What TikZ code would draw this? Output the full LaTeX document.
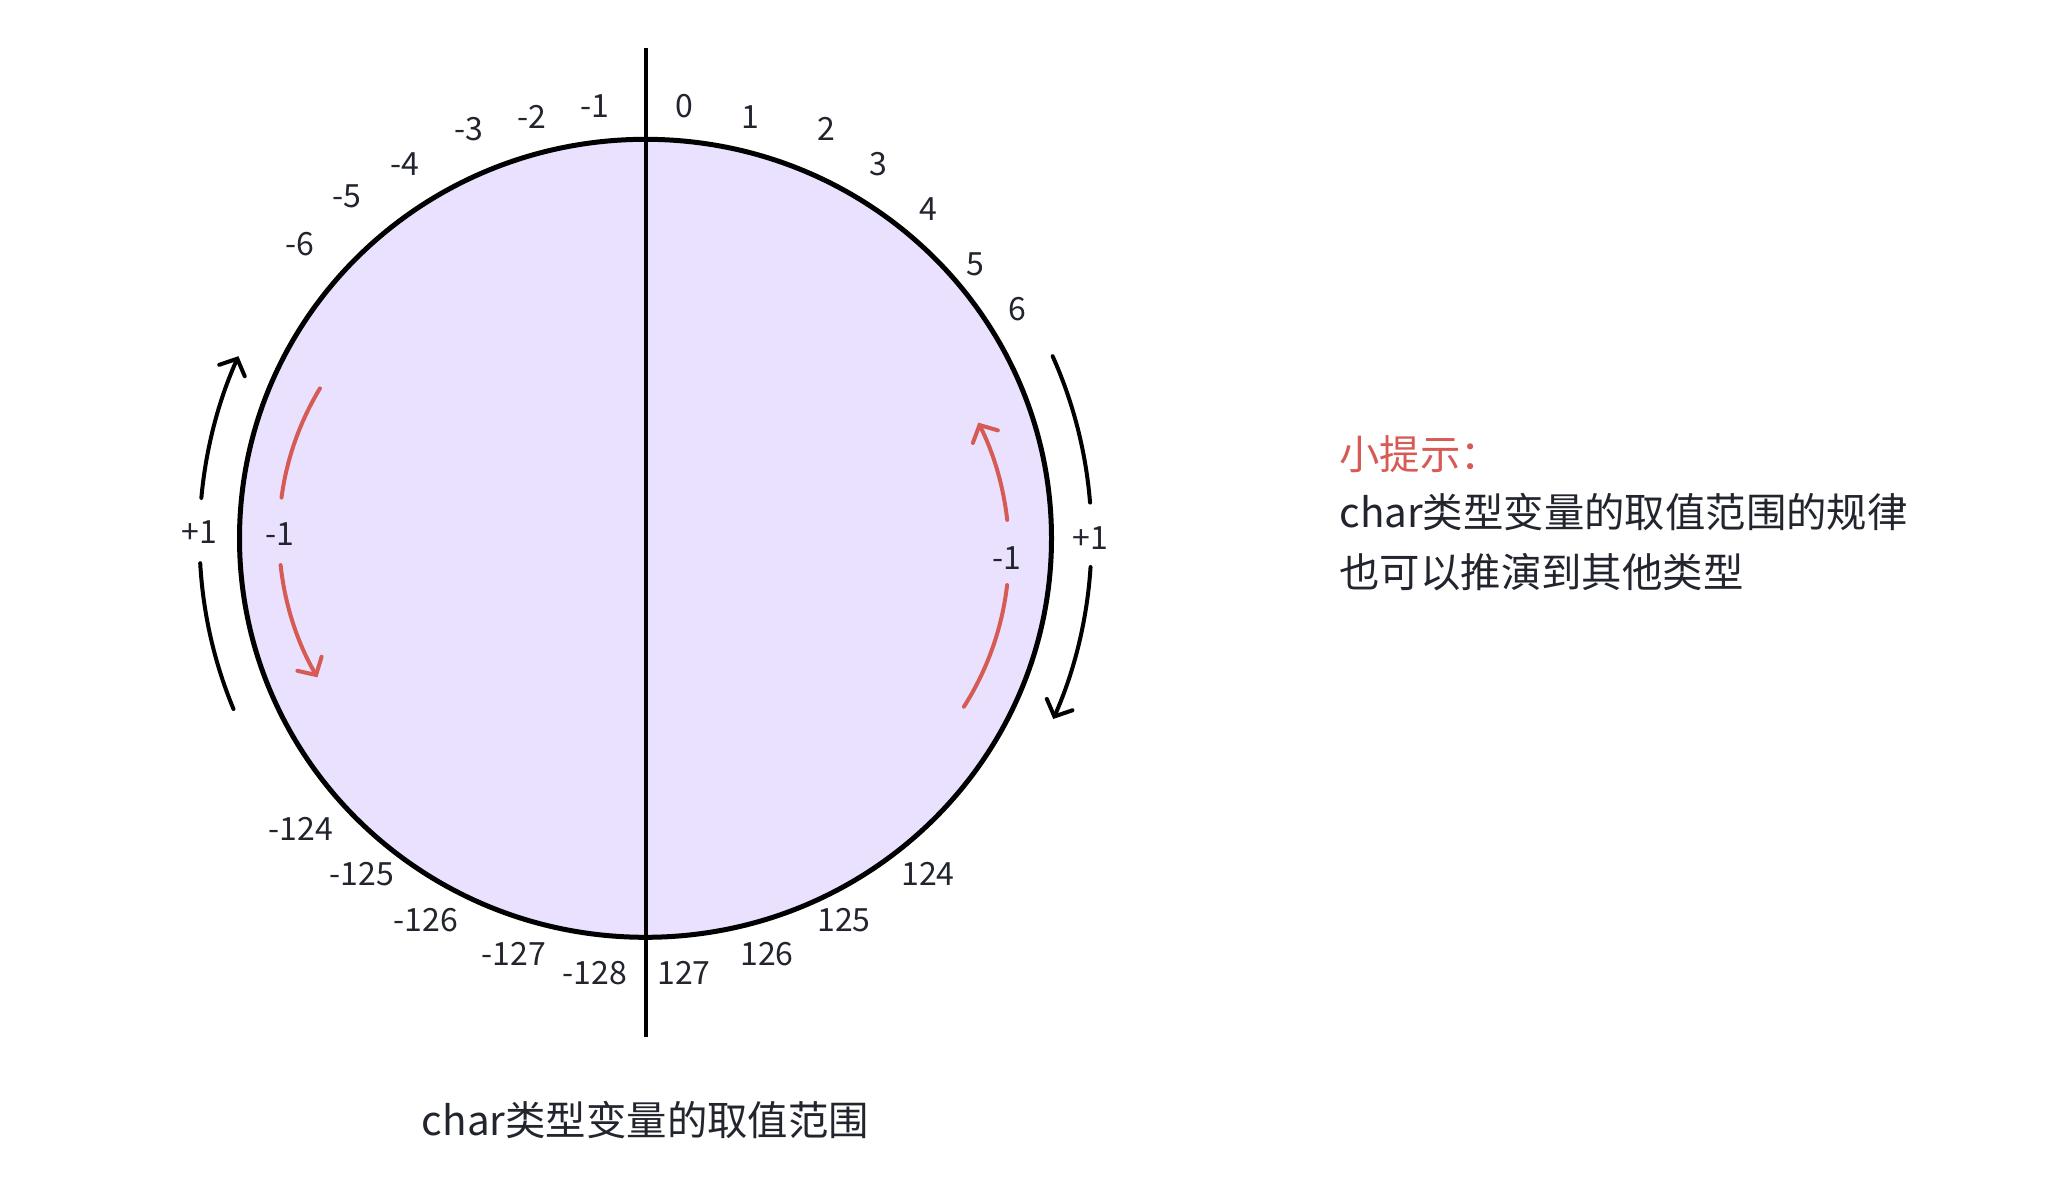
\documentclass[tikz,border=0pt]{standalone}
\usepackage{fontspec}
\setmainfont{Noto Sans CJK SC}
\usetikzlibrary{arrows.meta,calc}
\definecolor{fillc}{HTML}{E9E1FE}
\definecolor{redc}{HTML}{D65B55}
\definecolor{txtc}{HTML}{22242E}
\begin{document}
\begin{tikzpicture}[x=0.5pt,y=-0.5pt,
  num/.style={font=\fontsize{16pt}{18pt}\selectfont, text=txtc, inner sep=0pt, text height=0.72em, text depth=0pt, anchor=center, yshift=-1.8pt},
  big/.style={font=\fontsize{20.2pt}{24pt}\selectfont, text=txtc, inner sep=0pt},
  blackarc/.style={draw=black, line width=2pt, line cap=round},
  redarc/.style={draw=redc, line width=2pt, line cap=round},
  barb/.style={-{Straight Barb[length=6.5pt,width=14pt,line cap=round]}}
]
\useasboundingbox (0,0) rectangle (2055,1178);
\coordinate (C) at (645.5,538.3);
\coordinate (CL) at (562,535);
\coordinate (CR) at (721,552);
\coordinate (vtop) at (645.5,48);
\coordinate (vbot) at (645.5,1037);
% circle
\draw[fill=fillc, line width=2.5pt] (C) ellipse [x radius=203pt, y radius=199.5pt];
\draw[line width=2pt] (vtop) -- (vbot);
% black arcs
\draw[blackarc,barb] ($(C)+(174.8:223pt)$) arc[start angle=174.8, end angle=155.9, radius=223pt];
\draw[blackarc] ($(C)+(183.2:223pt)$) arc[start angle=183.2, end angle=202.5, radius=223pt];
\draw[blackarc] ($(C)+(24.1:223pt)$) arc[start angle=24.1, end angle=4.6, radius=223pt];
\draw[blackarc,barb] ($(C)+(-3.7:223pt)$) arc[start angle=-3.7, end angle=-23.9, radius=223pt];
% red arcs
\draw[redarc] ($(CL)+(148.8:141.5pt)$) arc[start angle=148.8, end angle=172.4, radius=141.5pt];
\draw[redarc,barb] ($(CL)+(186.1:141.5pt)$) arc[start angle=186.1, end angle=210.2, radius=141.5pt];
\draw[redarc] ($(CR)+(-32.5:144pt)$) arc[start angle=-32.5, end angle=-6.6, radius=144pt];
\draw[redarc,barb] ($(CR)+(6.4:144pt)$) arc[start angle=6.4, end angle=26.7, radius=144pt];
% arc labels
\node[num] (lp) at (199,533) {+1};
\node[num] (lm) at (280,535) {-1};
\node[num] (rp) at (1090.7,538.3) {+1};
\node[num] (rm) at (1007.3,558.3) {-1};
% top labels
\node[num] (p0) at (684,107) {0};
\node[num] (p1) at (750,118) {1};
\node[num] (p2) at (826,130) {2};
\node[num] (p3) at (878,165) {3};
\node[num] (p4) at (928,210) {4};
\node[num] (p5) at (975,265) {5};
\node[num] (p6) at (1017,310) {6};
\node[num] (m1) at (595,107) {-1};
\node[num] (m2) at (532,118) {-2};
\node[num] (m3) at (469,130) {-3};
\node[num] (m4) at (405,165) {-4};
\node[num] (m5) at (347,197) {-5};
\node[num] (m6) at (300,245) {-6};
% bottom labels
\node[num] (m124) at (301,830) {-124};
\node[num] (m125) at (362,875) {-125};
\node[num] (m126) at (426,921) {-126};
\node[num] (m127) at (514,955) {-127};
\node[num] (m128) at (595,974) {-128};
\node[num] (p127) at (684,974) {127};
\node[num] (p126) at (767,955) {126};
\node[num] (p125) at (844,921) {125};
\node[num] (p124) at (928,875) {124};
% captions
\node[big, anchor=base] (cap) at (645.5,1135) {char类型变量的取值范围};
\node[big, anchor=base west, text=redc] (tip) at (1339,469) {小提示：};
\node[big, anchor=base west] (tip2) at (1339,527) {char类型变量的取值范围的规律};
\node[big, anchor=base west] (tip3) at (1339,587) {也可以推演到其他类型};
\end{tikzpicture}
\end{document}
